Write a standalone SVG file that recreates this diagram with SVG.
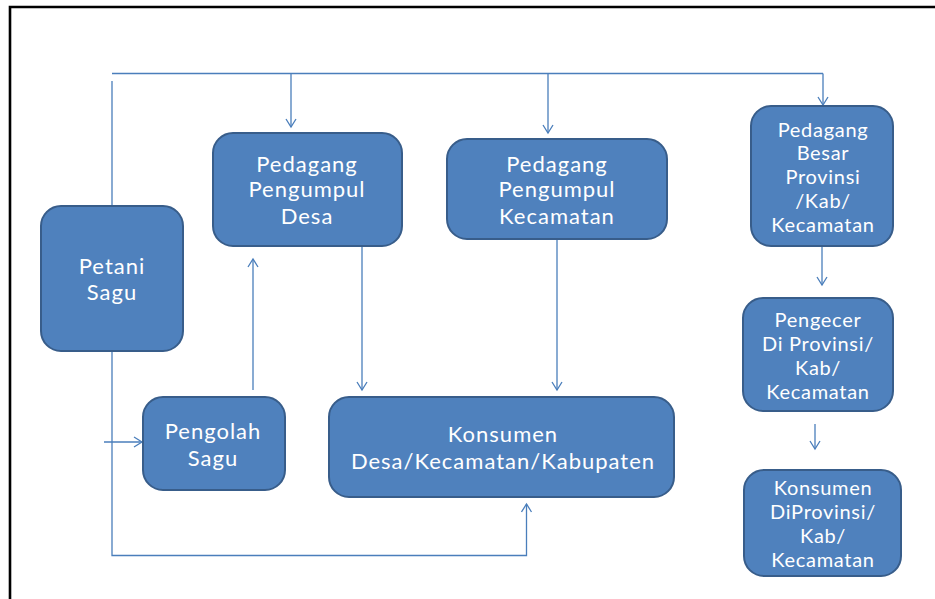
<svg xmlns="http://www.w3.org/2000/svg" width="935" height="599" viewBox="0 0 935 599">
<style>
.n rect{fill:#4f81bd;stroke:#385d8a;stroke-width:2}
.n text{fill:#ffffff;font-family:Lato,"Open Sans",sans-serif;font-size:22px;letter-spacing:1px;text-anchor:middle}
.n.s text{font-size:20px;letter-spacing:0.7px}
.c path{fill:none;stroke:#4a7ebb;stroke-width:1.3}
</style>
<defs>
<marker id="a" markerUnits="userSpaceOnUse" markerWidth="14" markerHeight="14" refX="9" refY="6" orient="auto">
<path d="M1,1 L9,6 L1,11" fill="none" stroke="#4a7ebb" stroke-width="1.3"/>
</marker>
</defs>
<rect width="935" height="599" fill="#ffffff"/>
<path d="M935,7 L10,7 L10,599" fill="none" stroke="#000000" stroke-width="2.6"/>
<g class="c" id="connectors">
<path d="M112,73.5 L823,73.5"/>
<path d="M291,73.5 L291,127" marker-end="url(#a)"/>
<path d="M548,73.5 L548,133" marker-end="url(#a)"/>
<path d="M823,73.5 L823,105" marker-end="url(#a)"/>
<path d="M112,81 L112,555.5 L526.5,555.5 L526.5,504" marker-end="url(#a)"/>
<path d="M104,442 L142,442" marker-end="url(#a)"/>
<path d="M253,390 L253,259" marker-end="url(#a)"/>
<path d="M362,246 L362,390" marker-end="url(#a)"/>
<path d="M557,240 L557,390" marker-end="url(#a)"/>
<path d="M822,246 L822,285" marker-end="url(#a)"/>
<path d="M815,424 L815,449" marker-end="url(#a)"/>
</g>
<g class="n" id="petani">
<rect x="41" y="206" width="142" height="145" rx="20"/>
<text x="112" y="274">Petani</text>
<text x="112" y="300">Sagu</text>
</g>
<g class="n" id="ppdesa">
<rect x="213" y="133" width="189" height="113" rx="20"/>
<text x="307" y="172">Pedagang</text>
<text x="307" y="197">Pengumpul</text>
<text x="307" y="224">Desa</text>
</g>
<g class="n" id="ppkec">
<rect x="447" y="139" width="220" height="100" rx="20"/>
<text x="557" y="172">Pedagang</text>
<text x="557" y="197">Pengumpul</text>
<text x="557" y="224">Kecamatan</text>
</g>
<g class="n s" id="pbesar">
<rect x="751" y="106" width="142" height="140" rx="20"/>
<text x="823" y="137">Pedagang</text>
<text x="823" y="160">Besar</text>
<text x="823" y="184">Provinsi</text>
<text x="823" y="208">/Kab/</text>
<text x="823" y="232">Kecamatan</text>
</g>
<g class="n s" id="pengecer">
<rect x="743" y="298" width="150" height="113" rx="20"/>
<text x="818" y="327">Pengecer</text>
<text x="818" y="351">Di Provinsi/</text>
<text x="818" y="375">Kab/</text>
<text x="818" y="399">Kecamatan</text>
</g>
<g class="n s" id="konprov">
<rect x="744" y="470" width="157" height="106" rx="20"/>
<text x="823" y="495">Konsumen</text>
<text x="823" y="519">DiProvinsi/</text>
<text x="823" y="543">Kab/</text>
<text x="823" y="567">Kecamatan</text>
</g>
<g class="n" id="pengolah">
<rect x="143" y="397" width="142" height="93" rx="20"/>
<text x="213" y="439">Pengolah</text>
<text x="213" y="466">Sagu</text>
</g>
<g class="n" id="konsumen">
<rect x="329" y="397" width="345" height="100" rx="20"/>
<text x="503" y="442">Konsumen</text>
<text x="503" y="469">Desa/Kecamatan/Kabupaten</text>
</g>
</svg>
